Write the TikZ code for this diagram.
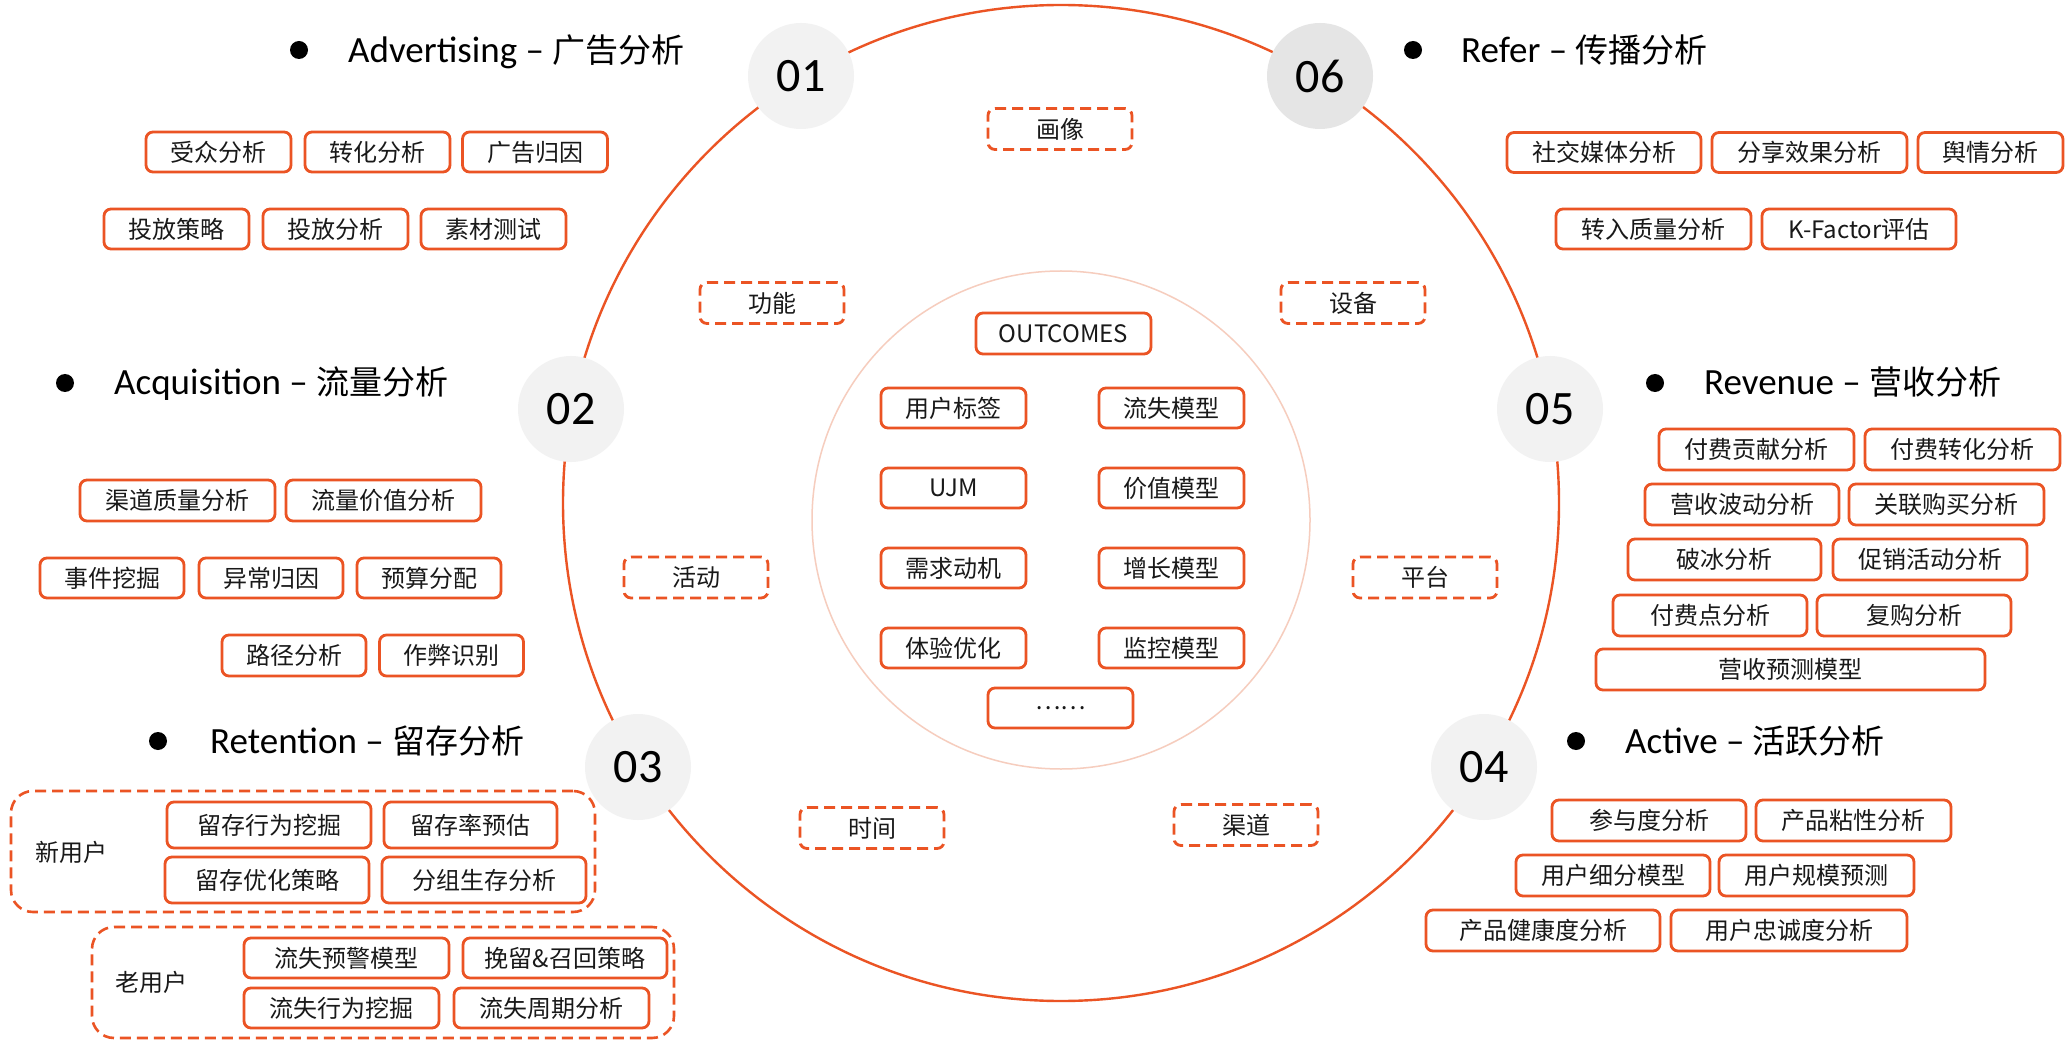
\documentclass[tikz,border=0pt]{standalone}
\usepackage{fontspec}
\setmainfont{Carlito}
\newfontfamily\cjk{Noto Sans CJK SC}
\definecolor{accent}{RGB}{235,84,36}
\definecolor{innerc}{RGB}{246,205,190}
\definecolor{numfill}{RGB}{242,242,242}
\definecolor{numfilld}{RGB}{229,229,229}
\definecolor{txt}{RGB}{25,25,25}
\tikzset{
 solidbox/.style={draw=accent, line width=2.8pt, rounded corners=7pt, fill=white, inner sep=0pt, minimum height=40pt, minimum width=145pt, text=txt, font=\cjk\fontsize{24}{24}\selectfont},
 dashbox/.style={solidbox, dash pattern=on 11pt off 6pt, minimum height=41pt, minimum width=144pt},
 groupbox/.style={draw=accent, line width=2.6pt, dash pattern=on 11pt off 6pt, rounded corners=22pt, inner sep=0pt},
 numcirc/.style={circle, fill=numfill, minimum size=106pt, inner sep=0pt, font=\fontsize{48}{48}\selectfont, text=black},
 dotb/.style={circle, fill=black, minimum size=18pt, inner sep=0pt},
 titletext/.style={anchor=base west, inner sep=0pt, font=\fontsize{37}{40}\selectfont, text=black},
 grouplabel/.style={inner sep=0pt, font=\cjk\fontsize{24}{24}\selectfont, text=txt},
}
\newcommand\zh[1]{{\cjk\fontsize{33}{33}\selectfont #1}}
\begin{document}
\begin{tikzpicture}[x=1pt,y=-1pt]
\fill[white] (0,0) rectangle (2067,1040);
\useasboundingbox (0,0) rectangle (2067,1040);

% circles
\draw[accent, line width=2.4pt] (1061,503) circle [radius=498pt];
\draw[innerc, line width=1.5pt] (1061,520) circle [radius=249pt];

\node[numcirc] (n01) at (801,76) {01};
\node[numcirc, fill=numfilld] (n06) at (1320,76) {06};
\node[numcirc] (n02) at (571,409) {02};
\node[numcirc] (n05) at (1550,409) {05};
\node[numcirc] (n03) at (638,767) {03};
\node[numcirc] (n04) at (1484,767) {04};

% titles
\node[dotb] (dAdv) at (299,50) {};
\node[titletext] (tAdv) at (348,63) {Advertising – \zh{广告分析}};
\node[dotb] (dRef) at (1413,50) {};
\node[titletext] (tRef) at (1461,63) {Refer – \zh{传播分析}};
\node[dotb] (dAcq) at (65,383) {};
\node[titletext] (tAcq) at (114,395) {Acquisition – \zh{流量分析}};
\node[dotb] (dRev) at (1655,383) {};
\node[titletext] (tRev) at (1704,395) {Revenue – \zh{营收分析}};
\node[dotb] (dRet) at (158,741) {};
\node[titletext] (tRet) at (210,753) {Retention – \zh{留存分析}};
\node[dotb] (dAct) at (1576,741) {};
\node[titletext] (tAct) at (1625,753) {Active – \zh{活跃分析}};

% Advertising
\node[solidbox] (a1) at (218.5,152) {受众分析};
\node[solidbox] (a2) at (377.5,152) {转化分析};
\node[solidbox] (a3) at (535,152) {广告归因};
\node[solidbox] (a4) at (176.5,229) {投放策略};
\node[solidbox] (a5) at (335.5,229) {投放分析};
\node[solidbox] (a6) at (493.5,229) {素材测试};

% Refer
\node[solidbox, minimum width=194pt] (r1) at (1604,152.5) {社交媒体分析};
\node[solidbox, minimum width=195pt] (r2) at (1809.5,152.5) {分享效果分析};
\node[solidbox] (r3) at (1990.5,152.5) {舆情分析};
\node[solidbox, minimum width=195pt] (r4) at (1653.5,229) {转入质量分析};
\node[solidbox, minimum width=194pt] (r5) at (1859,229) {K-Factor评估};

% Acquisition
\node[solidbox, minimum width=195pt, minimum height=41pt] (q1) at (177.5,500.5) {渠道质量分析};
\node[solidbox, minimum width=195pt, minimum height=41pt] (q2) at (383.5,500.5) {流量价值分析};
\node[solidbox, minimum width=144pt] (q3) at (112,578) {事件挖掘};
\node[solidbox, minimum width=144pt] (q4) at (271,578) {异常归因};
\node[solidbox, minimum width=144pt] (q5) at (429,578) {预算分配};
\node[solidbox, minimum width=144pt, minimum height=41pt] (q6) at (294,655.5) {路径分析};
\node[solidbox, minimum width=144pt, minimum height=41pt] (q7) at (451.5,655.5) {作弊识别};

% dashed dimension boxes
\node[dashbox] (k1) at (1060,129) {画像};
\node[dashbox] (k2) at (772,303) {功能};
\node[dashbox] (k3) at (1353,303) {设备};
\node[dashbox] (k4) at (696,577.5) {活动};
\node[dashbox] (k5) at (1425,577.5) {平台};
\node[dashbox] (k6) at (872,828) {时间};
\node[dashbox] (k7) at (1246,825) {渠道};

% Outcomes
\node[solidbox, minimum width=175pt, minimum height=41pt] (o0) at (1063.5,333.5) {OUTCOMES};
\node[solidbox] (o1) at (953.5,408) {用户标签};
\node[solidbox] (o2) at (1171.5,408) {流失模型};
\node[solidbox] (o3) at (953.5,488) {UJM};
\node[solidbox] (o4) at (1171.5,488) {价值模型};
\node[solidbox] (o5) at (953.5,568) {需求动机};
\node[solidbox] (o6) at (1171.5,568) {增长模型};
\node[solidbox] (o7) at (953.5,648) {体验优化};
\node[solidbox] (o8) at (1171.5,648) {监控模型};
\node[solidbox] (o9) at (1060.5,708) {……};

% Revenue
\node[solidbox, minimum width=195pt, minimum height=41pt] (v1) at (1756.5,449.5) {付费贡献分析};
\node[solidbox, minimum width=195pt, minimum height=41pt] (v2) at (1962.5,449.5) {付费转化分析};
\node[solidbox, minimum width=194pt, minimum height=41pt] (v3) at (1742,504.5) {营收波动分析};
\node[solidbox, minimum width=195pt, minimum height=41pt] (v4) at (1946.5,504.5) {关联购买分析};
\node[solidbox, minimum width=193pt, minimum height=41pt] (v5) at (1724.5,559.5) {破冰分析};
\node[solidbox, minimum width=194pt, minimum height=41pt] (v6) at (1930,559.5) {促销活动分析};
\node[solidbox, minimum width=194pt, minimum height=41pt] (v7) at (1710,615.5) {付费点分析};
\node[solidbox, minimum width=194pt, minimum height=41pt] (v8) at (1914,615.5) {复购分析};
\node[solidbox, minimum width=389pt, minimum height=41pt] (v9) at (1790.5,669.5) {营收预测模型};

% Active
\node[solidbox, minimum width=194pt, minimum height=41pt] (c1) at (1649,820.5) {参与度分析};
\node[solidbox, minimum width=195pt, minimum height=41pt] (c2) at (1853.5,820.5) {产品粘性分析};
\node[solidbox, minimum width=194pt, minimum height=41pt] (c3) at (1613,875.5) {用户细分模型};
\node[solidbox, minimum width=195pt, minimum height=41pt] (c4) at (1816.5,875.5) {用户规模预测};
\node[solidbox, minimum width=234pt, minimum height=41pt] (c5) at (1543,930.5) {产品健康度分析};
\node[solidbox, minimum width=236pt, minimum height=41pt] (c6) at (1789,930.5) {用户忠诚度分析};

% Retention groups
\node[groupbox, minimum width=584pt, minimum height=121pt] (gnew) at (303,851.5) {};
\node[grouplabel] (lnew) at (71,852) {新用户};
\node[solidbox, minimum width=204pt, minimum height=46pt] (e1) at (269,825) {留存行为挖掘};
\node[solidbox, minimum width=173pt, minimum height=46pt] (e2) at (470.5,825) {留存率预估};
\node[solidbox, minimum width=204pt, minimum height=46pt] (e3) at (267,880) {留存优化策略};
\node[solidbox, minimum width=204pt, minimum height=46pt] (e4) at (484,880) {分组生存分析};

\node[groupbox, minimum width=582pt, minimum height=111pt] (gold) at (383,982.5) {};
\node[grouplabel] (lold) at (151.5,982) {老用户};
\node[solidbox, minimum width=205pt] (f1) at (346.5,958) {流失预警模型};
\node[solidbox, minimum width=204pt] (f2) at (565,958) {挽留\&召回策略};
\node[solidbox, minimum width=195pt] (f3) at (341.5,1008) {流失行为挖掘};
\node[solidbox, minimum width=195pt] (f4) at (551.5,1008) {流失周期分析};
\end{tikzpicture}
\end{document}
